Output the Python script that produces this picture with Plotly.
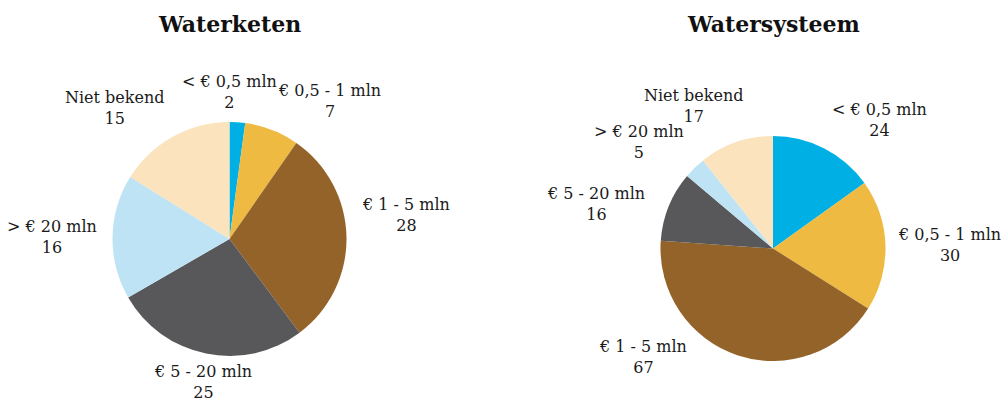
import math
import plotly.graph_objects as go

W, H = 1006, 405

categories_keten = ["< € 0,5 mln", "€ 0,5 - 1 mln", "€ 1 - 5 mln", "€ 5 - 20 mln", "> € 20 mln", "Niet bekend"]
values_keten = [2, 7, 28, 25, 16, 15]

categories_systeem = ["< € 0,5 mln", "€ 0,5 - 1 mln", "€ 1 - 5 mln", "€ 5 - 20 mln", "> € 20 mln", "Niet bekend"]
values_systeem = [24, 30, 67, 16, 5, 17]

titles = ["Waterketen", "Watersysteem"]

colors = ["#00b0e4", "#efba41", "#94632a", "#58585a", "#bde3f5", "#fae3bd"]

FONT = "DejaVu Serif"
TEXT = "#1a1a1a"

# pie placement in pixels: centre x, centre y, radius; per-label pixel nudges
pies = [
    dict(cx=229.5, cy=239.0, r=117.0, cats=categories_keten, vals=values_keten, title=titles[0],
         nudges={0: (-9, 0), 2: (0, 22), 3: (0, 4)}),
    dict(cx=773.0, cy=248.5, r=112.5, cats=categories_systeem, vals=values_systeem, title=titles[1],
         nudges={1: (-2, 0), 2: (-46, 30), 3: (-10, -3), 5: (14, 8)}),
]

# vertical offset applied by anchor side
anchor_dy = {"bottom": -5, "top": 2, "middle": 0}

fig = go.Figure()
annotations = []

for p in pies:
    cx, cy, r = p["cx"], p["cy"], p["r"]
    fig.add_trace(go.Pie(
        labels=p["cats"], values=p["vals"], sort=False, direction="clockwise", rotation=0,
        marker=dict(colors=colors, line=dict(width=0)),
        textinfo="none", hoverinfo="label+value", showlegend=False,
        domain=dict(x=[(cx - r) / W, (cx + r) / W], y=[1 - (cy + r) / H, 1 - (cy - r) / H]),
    ))

    total = sum(p["vals"])
    cum = 0
    for i, (cat, val) in enumerate(zip(p["cats"], p["vals"])):
        theta = 2 * math.pi * (cum + val / 2) / total
        cum += val
        s, c = math.sin(theta), math.cos(theta)
        px = cx + 1.12 * r * s
        py = cy - 1.12 * r * c
        xanchor = "left" if s > 0.3 else ("right" if s < -0.3 else "center")
        yanchor = "bottom" if c > 0.5 else ("top" if c < -0.5 else "middle")
        dx, dy = p["nudges"].get(i, (0, 0))
        annotations.append(dict(
            x=px / W, y=1 - py / H, xref="paper", yref="paper",
            text=f"{cat}<br>{val}", showarrow=False,
            xanchor=xanchor, yanchor=yanchor, xshift=dx, yshift=dy + anchor_dy[yanchor],
            align="center", borderpad=0,
            font=dict(family=FONT, size=16, color=TEXT),
        ))

    annotations.append(dict(
        x=cx / W, y=1 - 24 / H, xref="paper", yref="paper",
        text=f"<b>{p['title']}</b>", showarrow=False, xanchor="center", yanchor="middle",
        font=dict(family=FONT, size=22, color="#111111"),
    ))

fig.update_layout(
    width=W, height=H,
    margin=dict(l=0, r=0, t=0, b=0),
    paper_bgcolor="white", plot_bgcolor="white",
    annotations=annotations,
)

fig.write_html("out.html")
